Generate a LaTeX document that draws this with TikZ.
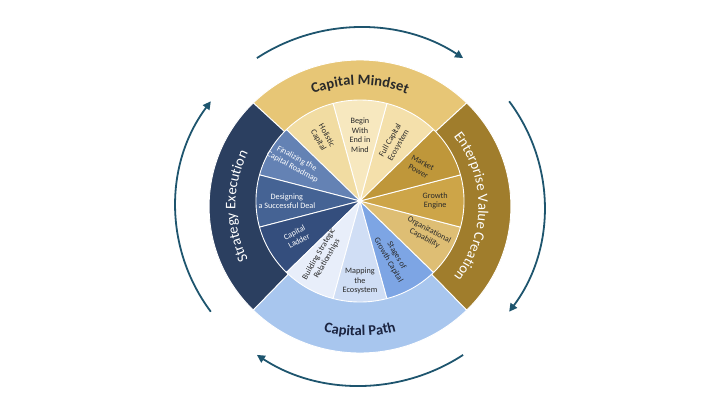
\documentclass[tikz,border=0pt]{standalone}
\usepackage{fontspec}
\setmainfont{Carlito}
\usetikzlibrary{arrows.meta,decorations.text}

\definecolor{mindset}{HTML}{E7C676}
\definecolor{holistic}{HTML}{F1DCA2}
\definecolor{beginend}{HTML}{F7E8BF}
\definecolor{fullcap}{HTML}{F4E0AB}
\definecolor{enterprise}{HTML}{A07D2C}
\definecolor{market}{HTML}{BF973A}
\definecolor{growth}{HTML}{CDA548}
\definecolor{orgcap}{HTML}{DEBE74}
\definecolor{strategy}{HTML}{2B3F60}
\definecolor{finalizing}{HTML}{6482B4}
\definecolor{designing}{HTML}{456394}
\definecolor{ladder}{HTML}{344E7D}
\definecolor{path}{HTML}{A8C6EE}
\definecolor{stages}{HTML}{7DA5E4}
\definecolor{mapping}{HTML}{D0DEF5}
\definecolor{building}{HTML}{E8EEFA}
\definecolor{arrowblue}{HTML}{1E556E}
\definecolor{inkdark}{HTML}{2A2A2A}
\definecolor{inknavy}{HTML}{1B2440}

\begin{document}
\begin{tikzpicture}[x=1.03pt, y=1pt,
    slice/.style={draw=white, line width=0.9pt},
    inlabel/.style={align=center, font=\fontsize{8.2}{9.5}\selectfont, text=inkdark},
    inlight/.style={text=white},
    turn/.style={draw=arrowblue, line width=1.8pt, -{Triangle[length=8pt, width=8pt]}}]
    \useasboundingbox (-360pt, -201pt) rectangle (360pt, 204pt);

    % Centres
    \coordinate (O) at (0,-2.5);
    \coordinate (C) at (0,3);

    % Outer ring
    \filldraw[slice, fill=mindset] (C) -- ([shift={(O)}]45:146.5) arc[start angle=45, end angle=135, radius=146.5] -- cycle;
    \filldraw[slice, fill=strategy] (C) -- ([shift={(O)}]135:146.5) arc[start angle=135, end angle=225, radius=146.5] -- cycle;
    \filldraw[slice, fill=path] (C) -- ([shift={(O)}]225:146.5) arc[start angle=225, end angle=315, radius=146.5] -- cycle;
    \filldraw[slice, fill=enterprise] (C) -- ([shift={(O)}]-45:146.5) arc[start angle=-45, end angle=45, radius=146.5] -- cycle;

    \begin{scope}[shift={(C)}]
    % Inner slices
    \filldraw[slice, fill=fullcap] (0,0) -- (45:101) arc[start angle=45, end angle=75, radius=101] -- cycle;
    \filldraw[slice, fill=beginend] (0,0) -- (75:101) arc[start angle=75, end angle=105, radius=101] -- cycle;
    \filldraw[slice, fill=holistic] (0,0) -- (105:101) arc[start angle=105, end angle=135, radius=101] -- cycle;
    \filldraw[slice, fill=finalizing] (0,0) -- (135:101) arc[start angle=135, end angle=165, radius=101] -- cycle;
    \filldraw[slice, fill=designing] (0,0) -- (165:101) arc[start angle=165, end angle=195, radius=101] -- cycle;
    \filldraw[slice, fill=ladder] (0,0) -- (195:101) arc[start angle=195, end angle=225, radius=101] -- cycle;
    \filldraw[slice, fill=building] (0,0) -- (225:101) arc[start angle=225, end angle=255, radius=101] -- cycle;
    \filldraw[slice, fill=mapping] (0,0) -- (255:101) arc[start angle=255, end angle=285, radius=101] -- cycle;
    \filldraw[slice, fill=stages] (0,0) -- (285:101) arc[start angle=285, end angle=315, radius=101] -- cycle;
    \filldraw[slice, fill=orgcap] (0,0) -- (315:101) arc[start angle=315, end angle=345, radius=101] -- cycle;
    \filldraw[slice, fill=growth] (0,0) -- (-15:101) arc[start angle=-15, end angle=15, radius=101] -- cycle;
    \filldraw[slice, fill=market] (0,0) -- (15:101) arc[start angle=15, end angle=45, radius=101] -- cycle;

    % Slice labels
    \node[inlabel] (beginlbl) at (90:66) {Begin\\With\\End in\\Mind};
    \node[inlabel, rotate=-60] (holisticlbl) at (120:73) {Holistic\\Capital};
    \node[inlabel, rotate=60] (fullcaplbl) at (60:67) {Full Capital\\Ecosystem};
    \node[inlabel, rotate=-28] (marketlbl) at (30:68) {Market\\Power};
    \node[inlabel] (growthlbl) at (0:73) {Growth\\Engine};
    \node[inlabel, rotate=-28] (orgcaplbl) at (-27:73) {Organizational\\Capability};
    \node[inlabel, rotate=-60] (stageslbl) at (-61:65) {Stages of\\Growth Capital};
    \node[inlabel] (mappinglbl) at (-90:80) {Mapping\\the\\Ecosystem};
    \node[inlabel, rotate=60] (buildinglbl) at (-123:66) {Building Strategic\\Relationships};
    \node[inlabel, inlight, rotate=28] (ladderlbl) at (210:71) {Capital\\Ladder};
    \node[inlabel, inlight] (designinglbl) at (180:71) {Designing\\a Successful Deal};
    \node[inlabel, inlight, rotate=-28] (finalizinglbl) at (149:74) {Finalizing the\\Capital Roadmap};
    \end{scope}

    \begin{scope}[shift={(O)}]
    % Ring labels
    \path[decorate, decoration={text along path, text align=center,
        text={|\fontsize{14.6}{14.6}\bfseries\color{inkdark}|Capital Mindset}}]
        (130:121.5) arc[start angle=130, end angle=50, radius=121.5];
    \path[decorate, decoration={text along path, text align=center,
        text={|\fontsize{14.6}{14.6}\selectfont\color{white}|Enterprise Value Creation}}]
        (52:115) arc[start angle=52, end angle=-52, radius=115];
    \path[decorate, decoration={text along path, text align=center,
        text={|\fontsize{14.6}{14.6}\bfseries\color{inknavy}|Capital Path}}]
        (235:129.5) arc[start angle=235, end angle=305, radius=129.5];
    \path[decorate, decoration={text along path, text align=center,
        text={|\fontsize{14.6}{14.6}\selectfont\color{white}|Strategy Execution}}]
        (222:121) arc[start angle=222, end angle=138, radius=121];

    % Arrows
    \coordinate (A1) at (124:179);
    \coordinate (A2) at (36:179);
    \coordinate (A3) at (-56:179);
    \coordinate (A4) at (216:179);
    \draw[turn] (A1) arc[start angle=124, end angle=56, radius=179];
    \draw[turn] (A2) arc[start angle=36, end angle=-36, radius=179];
    \draw[turn] (A3) arc[start angle=-56, end angle=-124, radius=179];
    \draw[turn] (A4) arc[start angle=216, end angle=144, radius=179];
    \end{scope}
\end{tikzpicture}
\end{document}
